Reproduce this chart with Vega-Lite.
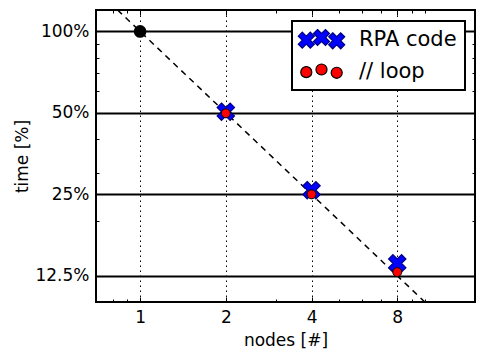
{
  "$schema": "https://vega.github.io/schema/vega-lite/v6.json",
  "width": 379,
  "height": 292,
  "autosize": "none",
  "padding": {"left": 96, "top": 10, "right": 11, "bottom": 58},
  "background": "white",
  "config": {
    "font": "DejaVu Sans",
    "view": {"stroke": "black", "strokeWidth": 2},
    "axis": {
      "domain": false,
      "grid": false,
      "tickColor": "black",
      "tickWidth": 1,
      "labelFont": "DejaVu Sans",
      "labelFontSize": 17,
      "labelColor": "black",
      "labelOverlap": false,
      "titleFont": "DejaVu Sans",
      "titleFontSize": 17,
      "titleFontWeight": "normal",
      "titleColor": "black"
    },
    "legend": {
      "orient": "none",
      "legendX": 196,
      "legendY": 11,
      "strokeColor": "black",
      "strokeWidth": 2,
      "fillColor": "white",
      "padding": 8,
      "labelFont": "DejaVu Sans",
      "labelFontSize": 21,
      "labelColor": "black",
      "symbolSize": 256,
      "symbolOffset": 11,
      "labelOffset": 27,
      "rowPadding": 8
    }
  },
  "resolve": {"axis": {"x": "independent", "y": "independent"}},
  "layer": [
    {
      "data": {"values": [{"n": 0.8333, "t": 120}, {"n": 10, "t": 10}]},
      "mark": {"type": "line", "color": "black", "strokeWidth": 1.5, "strokeDash": [6, 5], "clip": true},
      "encoding": {
        "x": {
          "field": "n", "type": "quantitative",
          "scale": {"type": "log", "base": 2, "domain": [0.7, 15], "nice": false},
          "axis": {
            "orient": "bottom", "values": [1, 2, 4, 8], "labelExpr": "datum.value",
            "grid": true, "gridColor": "black", "gridOpacity": 1, "gridWidth": 1, "gridDash": [1.5, 3.5],
            "tickSize": -5, "labelPadding": 12, "title": "nodes [#]", "titlePadding": 7
          }
        },
        "y": {
          "field": "t", "type": "quantitative",
          "scale": {"type": "log", "base": 2, "domain": [10, 120], "nice": false},
          "axis": {
            "orient": "left", "values": [12.5, 25, 50, 100], "labelExpr": "datum.value + '%'",
            "grid": true, "gridColor": "black", "gridOpacity": 1, "gridWidth": 2,
            "tickSize": -5, "labelPadding": 12, "title": "time [%]", "titlePadding": 3
          }
        }
      }
    },
    {
      "data": {"values": [{"n": 1, "t": 100}]},
      "mark": {"type": "point", "filled": true, "shape": "circle", "size": 113, "color": "black", "stroke": "black", "opacity": 1},
      "encoding": {
        "x": {
          "field": "n", "type": "quantitative",
          "axis": {"orient": "bottom", "values": [0.7, 0.8, 0.9, 3, 5, 6, 7, 9, 10], "labels": false, "tickSize": -3, "title": null}
        },
        "y": {
          "field": "t", "type": "quantitative",
          "axis": {"orient": "left", "values": [20, 30, 40, 60, 70, 80, 90], "labels": false, "tickSize": -3, "title": null}
        }
      }
    },
    {
      "data": {"values": [{"n": 2, "t": 50.5}, {"n": 4, "t": 25.9}, {"n": 8, "t": 13.9}]},
      "mark": {
        "type": "point", "filled": true, "opacity": 1, "size": 300,
        "shape": "M-0.5,-1L0,-0.5L0.5,-1L1,-0.5L0.5,0L1,0.5L0.5,1L0,0.5L-0.5,1L-1,0.5L-0.5,0L-1,-0.5Z",
        "stroke": "#000080", "strokeWidth": 1.2
      },
      "encoding": {
        "x": {
          "field": "n", "type": "quantitative",
          "axis": {"orient": "top", "values": [1, 2, 4, 8], "labels": false, "tickSize": -5, "title": null}
        },
        "y": {
          "field": "t", "type": "quantitative",
          "axis": {"orient": "right", "values": [12.5, 25, 50, 100], "labels": false, "tickSize": -5, "title": null}
        },
        "color": {
          "datum": "RPA code",
          "scale": {"domain": ["RPA code", "// loop"], "range": ["#0000ff", "#ff0000"]},
          "legend": {
            "title": null,
            "encoding": {
              "symbols": {
                "shape": {"value": {"expr": "datum.value === 'RPA code' ? 'M-2.4,-0.92L-1.9,-0.42L-1.4,-0.92L-0.9,-0.42L-1.4,0.08L-0.9,0.58L-1.4,1.08L-1.9,0.58L-2.4,1.08L-2.9,0.58L-2.4,0.08L-2.9,-0.42ZM-0.5,-1.25L0,-0.75L0.5,-1.25L1,-0.75L0.5,-0.25L1,0.25L0.5,0.75L0,0.25L-0.5,0.75L-1,0.25L-0.5,-0.25L-1,-0.75ZM1.4,-0.84L1.9,-0.34L2.4,-0.84L2.9,-0.34L2.4,0.16L2.9,0.66L2.4,1.16L1.9,0.66L1.4,1.16L0.9,0.66L1.4,0.16L0.9,-0.34Z' : 'M-2.59,0.08A0.69,0.69,0,1,0,-1.21,0.08A0.69,0.69,0,1,0,-2.59,0.08ZM-0.69,-0.25A0.69,0.69,0,1,0,0.69,-0.25A0.69,0.69,0,1,0,-0.69,-0.25ZM1.21,0.16A0.69,0.69,0,1,0,2.59,0.16A0.69,0.69,0,1,0,1.21,0.16Z'"}},
                "stroke": {"value": {"expr": "datum.value === 'RPA code' ? '#000080' : 'black'"}},
                "strokeWidth": {"value": 1.2},
                "opacity": {"value": 1}
              }
            }
          }
        }
      }
    },
    {
      "data": {"values": [{"n": 2, "t": 49.8}, {"n": 4, "t": 25.0}, {"n": 8, "t": 12.9}]},
      "mark": {"type": "point", "filled": true, "opacity": 1, "shape": "circle", "size": 80, "stroke": "black", "strokeWidth": 1},
      "encoding": {
        "x": {
          "field": "n", "type": "quantitative",
          "axis": {"orient": "top", "values": [0.7, 0.8, 0.9, 3, 5, 6, 7, 9, 10], "labels": false, "tickSize": -3, "title": null}
        },
        "y": {
          "field": "t", "type": "quantitative",
          "axis": {"orient": "right", "values": [20, 30, 40, 60, 70, 80, 90], "labels": false, "tickSize": -3, "title": null}
        },
        "color": {"datum": "// loop"}
      }
    }
  ]
}
